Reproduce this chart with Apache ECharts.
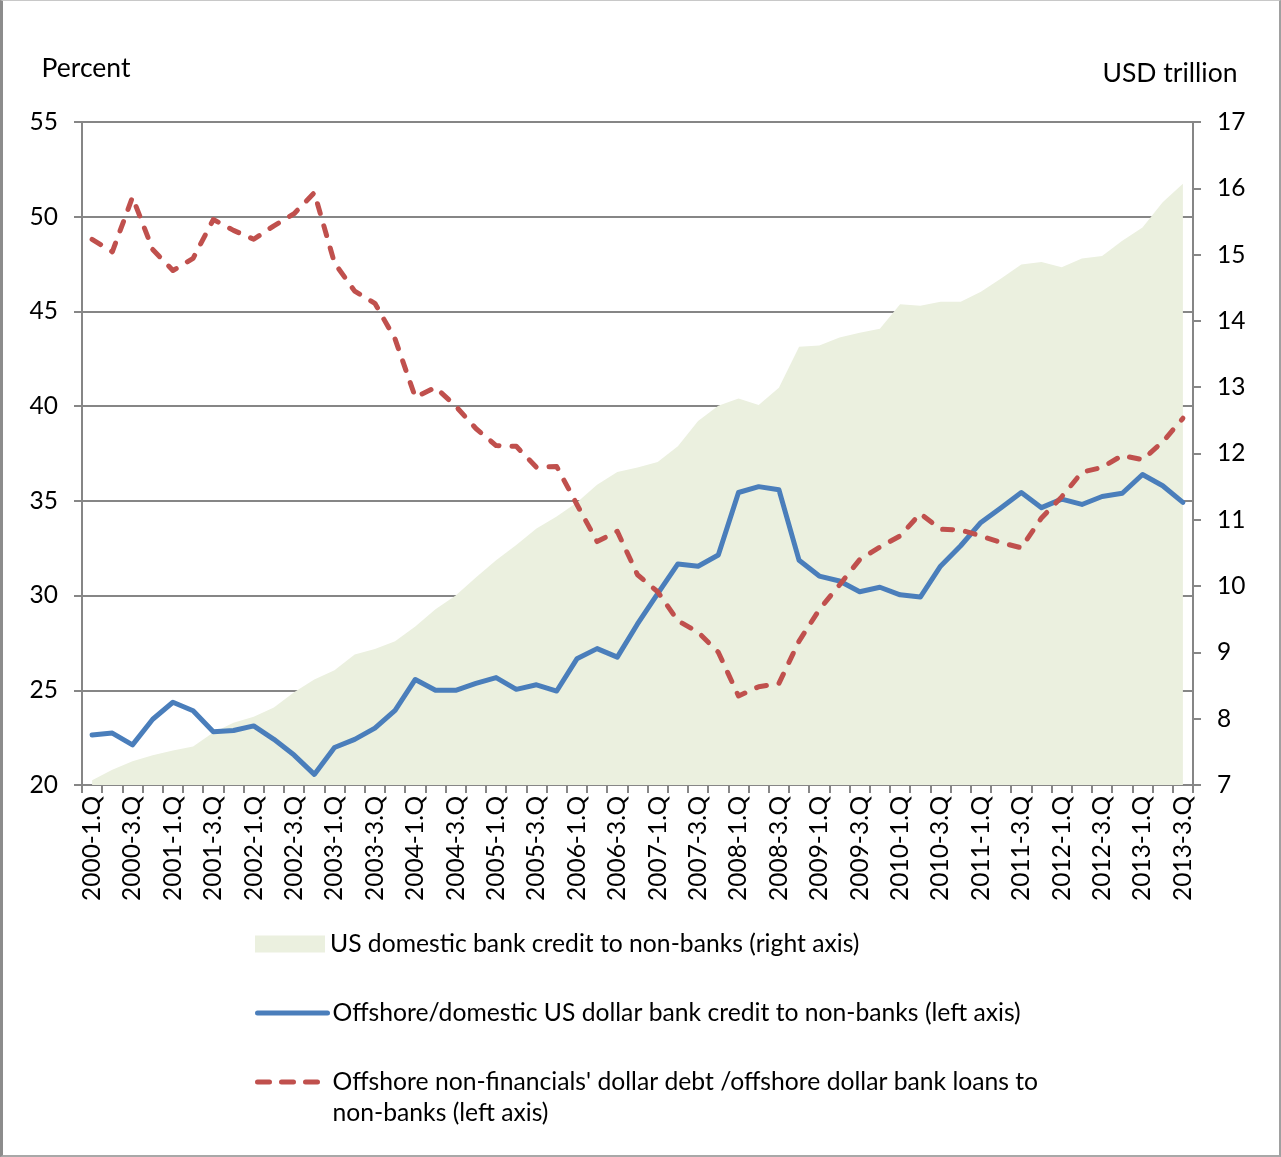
<!DOCTYPE html>
<html>
<head>
<meta charset="utf-8">
<script src="https://cdn.jsdelivr.net/npm/echarts@6/dist/echarts.min.js"></script>
<style>
  html, body { margin: 0; padding: 0; background: #fff; }
  #wrap { position: relative; width: 1281px; height: 1157px; }
  #chart { position: absolute; left: 0; top: 0; width: 1281px; height: 1157px; }
  #frame { position: absolute; left: 0; top: 0; width: 1281px; height: 1157px; box-sizing: border-box;
           border-left: 3px solid #8c8c8c; border-top: 1px solid #c8c8c8;
           border-right: 2px solid #a0a0a0; border-bottom: 2px solid #a8a8a8;
           pointer-events: none; z-index: 10; }
</style>
</head>
<body>
<div id="wrap"><div id="chart"></div><div id="frame"></div></div>
<script>
const years = [2000,2001,2002,2003,2004,2005,2006,2007,2008,2009,2010,2011,2012,2013];
const quarters = ['1','2','3','4'];
const categories = [];
years.forEach(y => quarters.forEach(q => { if (!(y === 2013 && q === '4')) categories.push(y + '-' + q + '.Q'); }));

const areaName = 'US domestic bank credit to non-banks (right axis)';
const blueName = 'Offshore/domestic US dollar bank credit to non-banks (left axis)';
const redName = "Offshore non-financials' dollar debt /offshore dollar bank loans to non-banks (left axis)";

const usDomesticCredit = [7.07,7.23,7.36,7.45,7.52,7.58,7.79,7.94,8.03,8.17,8.40,8.59,8.73,8.97,9.05,9.17,9.39,9.65,9.86,10.13,10.39,10.62,10.87,11.05,11.26,11.53,11.72,11.79,11.87,12.11,12.49,12.72,12.83,12.73,12.99,13.61,13.63,13.75,13.82,13.88,14.25,14.23,14.29,14.29,14.44,14.64,14.85,14.89,14.81,14.94,14.98,15.21,15.41,15.79,16.07];
const offshoreDomesticRatio = [22.64,22.74,22.12,23.47,24.37,23.92,22.81,22.88,23.12,22.41,21.58,20.56,21.98,22.41,23.00,23.94,25.57,25.0,25.0,25.36,25.67,25.05,25.29,24.96,26.66,27.20,26.75,28.5,30.1,31.67,31.55,32.14,35.44,35.75,35.59,31.86,31.03,30.77,30.20,30.44,30.04,29.92,31.55,32.63,33.86,34.64,35.44,34.64,35.09,34.81,35.23,35.40,36.39,35.80,34.92];
const debtLoanRatio = [48.81,48.15,51.03,48.27,47.16,47.80,49.85,49.28,48.81,49.52,50.16,51.27,47.56,46.07,45.43,43.54,40.47,40.99,40.0,38.82,37.92,37.88,36.77,36.81,34.81,32.85,33.39,31.1,30.2,28.67,28.07,27.01,24.70,25.19,25.36,27.60,29.26,30.56,31.90,32.56,33.15,34.33,33.50,33.46,33.15,32.80,32.52,34.10,35.21,36.51,36.77,37.40,37.17,38.11,39.36];

const FONT = 'Lato';
const AX = '#868686';
const AREA = '#ebf0df';
const BLUE = '#4a7ebb';
const RED = '#c0504d';
const LW = 5;
const DASH = [10, 13];
const LEGEND_DASH = [12, 12];
const chart = echarts.init(document.getElementById('chart'), null, { renderer: 'canvas' });

const legendText = { fontFamily: FONT, fontSize: 24.7, color: '#000', lineHeight: 31 };
const legendCommon = {
  orient: 'vertical', left: 255, padding: 0, itemWidth: 70, itemHeight: 17, itemGap: 7,
  selectedMode: false, textStyle: legendText
};
const hiddenSymbol = { color: 'rgba(0,0,0,0)', borderWidth: 0, opacity: 0 };

chart.setOption({
  animation: false,
  backgroundColor: '#fff',
  grid: { left: 82, right: 88, top: 122, bottom: 372, containLabel: false },
  legend: [
    Object.assign({}, legendCommon, { top: 928.5, data: [{ name: areaName, icon: 'rect', itemStyle: { color: AREA } }] }),
    Object.assign({}, legendCommon, { top: 997.5, data: [{ name: blueName }],
      itemStyle: hiddenSymbol,
      lineStyle: { color: BLUE, width: LW, type: 'solid', cap: 'round', opacity: 1 } }),
    Object.assign({}, legendCommon, { top: 1035.5, data: [{ name: redName }],
      itemStyle: hiddenSymbol,
      lineStyle: { color: RED, width: LW, type: LEGEND_DASH, cap: 'round', opacity: 1 },
      formatter: n => '\n' + n.replace('loans to ', 'loans to\n') })
  ],
  xAxis: {
    type: 'category', data: categories, boundaryGap: true,
    axisLine: { lineStyle: { color: AX, width: 2 } },
    axisTick: { show: true, interval: 0, length: 8, lineStyle: { color: AX, width: 2 } },
    axisLabel: { interval: 1, rotate: 90, margin: 11, fontFamily: FONT, fontSize: 24.5, color: '#000' },
    splitLine: { show: false }
  },
  yAxis: [
    {
      type: 'value', min: 20, max: 55, interval: 5, position: 'left',
      name: 'Percent', nameLocation: 'end', nameGap: 54,
      nameTextStyle: { fontFamily: FONT, fontSize: 26.5, color: '#000', verticalAlign: 'middle', align: 'center', padding: [0, 0, 0, 8] },
      axisLine: { show: true, lineStyle: { color: AX, width: 2 } },
      axisTick: { show: true, length: 8, lineStyle: { color: AX, width: 2 } },
      axisLabel: { margin: 24, fontFamily: FONT, fontSize: 24.5, color: '#000' },
      splitLine: { show: true, lineStyle: { color: AX, width: 2 } }
    },
    {
      type: 'value', min: 7, max: 17, interval: 1, position: 'right',
      name: 'USD trillion', nameLocation: 'end', nameGap: 49,
      nameTextStyle: { fontFamily: FONT, fontSize: 26.5, color: '#000', verticalAlign: 'middle', align: 'center', padding: [0, 46, 0, 0] },
      axisLine: { show: true, lineStyle: { color: AX, width: 2 } },
      axisTick: { show: true, length: 8, lineStyle: { color: AX, width: 2 } },
      axisLabel: { margin: 24, fontFamily: FONT, fontSize: 24.5, color: '#000' },
      splitLine: { show: false }
    }
  ],
  series: [
    {
      name: areaName, type: 'line', yAxisIndex: 1, data: usDomesticCredit,
      symbol: 'none', lineStyle: { width: 0 }, itemStyle: { color: AREA },
      areaStyle: { color: AREA, opacity: 1, origin: 'start' }, z: 1
    },
    {
      name: blueName, type: 'line', yAxisIndex: 0, data: offshoreDomesticRatio,
      symbol: 'none', itemStyle: { color: BLUE },
      lineStyle: { color: BLUE, width: LW, join: 'round', cap: 'round' }, z: 3
    },
    {
      name: redName, type: 'line', yAxisIndex: 0, data: debtLoanRatio,
      symbol: 'none', itemStyle: { color: RED },
      lineStyle: { color: RED, width: LW, type: DASH, cap: 'round', join: 'round' }, z: 4
    }
  ]
});
</script>
</body>
</html>
